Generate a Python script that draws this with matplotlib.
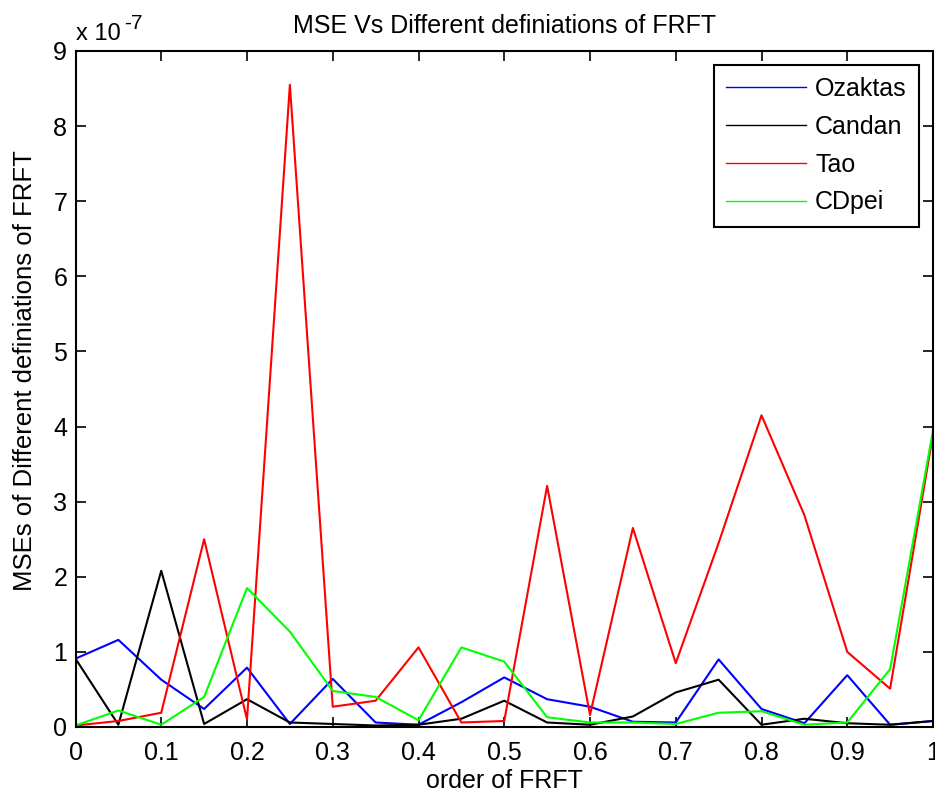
import matplotlib
matplotlib.use("Agg")
import matplotlib.pyplot as plt

plt.rcParams['font.family'] = ['Liberation Sans', 'DejaVu Sans']

order = [0, 0.05, 0.1, 0.15, 0.2, 0.25, 0.3, 0.35, 0.4, 0.45, 0.5,
         0.55, 0.6, 0.65, 0.7, 0.75, 0.8, 0.85, 0.9, 0.95, 1.0]

# values in units of 1e-7
ozaktas = [0.91, 1.16, 0.63, 0.24, 0.79, 0.04, 0.64, 0.06, 0.03, 0.33, 0.66,
           0.37, 0.27, 0.07, 0.06, 0.90, 0.24, 0.05, 0.69, 0.03, 0.08]
candan = [0.91, 0.03, 2.08, 0.04, 0.37, 0.06, 0.04, 0.02, 0.03, 0.11, 0.35,
          0.06, 0.03, 0.14, 0.46, 0.63, 0.03, 0.11, 0.05, 0.03, 0.08]
tao = [0.02, 0.08, 0.19, 2.50, 0.10, 8.55, 0.27, 0.35, 1.06, 0.06, 0.08,
       3.21, 0.16, 2.65, 0.85, 2.45, 4.15, 2.82, 1.00, 0.51, 3.90]
cdpei = [0.02, 0.22, 0.03, 0.40, 1.85, 1.27, 0.48, 0.40, 0.09, 1.06, 0.87,
         0.13, 0.06, 0.06, 0.04, 0.19, 0.21, 0.03, 0.06, 0.77, 3.95]

series_names = ['Ozaktas', 'Candan', 'Tao', 'CDpei']
series_colors = ['#0000ff', '#000000', '#ff0000', '#00ff00']

xticks = [0, 0.1, 0.2, 0.3, 0.4, 0.5, 0.6, 0.7, 0.8, 0.9, 1]
xticklabels = ['0', '0.1', '0.2', '0.3', '0.4', '0.5', '0.6', '0.7', '0.8', '0.9', '1']
yticks = [0, 1, 2, 3, 4, 5, 6, 7, 8, 9]

W, H = 935, 797
fig = plt.figure(figsize=(W / 100, H / 100), dpi=100)
ax = fig.add_axes([75.5 / W, 70 / H, (933 - 75.5) / W, (727 - 51) / H])

for name, vals, c in zip(series_names, [ozaktas, candan, tao, cdpei], series_colors):
    ax.plot(order, vals, color=c, lw=1.5, label=name)

ax.set_xlim(0, 1)
ax.set_ylim(0, 9)
ax.set_xticks(xticks)
ax.set_xticklabels(xticklabels)
ax.set_yticks(yticks)
ax.tick_params(direction='in', length=7, width=1.2, labelsize=18,
               top=True, right=True, colors='black')
ax.tick_params(axis='x', pad=10)
ax.tick_params(axis='y', pad=6)
for s in ax.spines.values():
    s.set_linewidth(1.5)

ax.set_title('MSE Vs Different definiations of FRFT', fontsize=18, pad=13)
ax.set_xlabel('order of FRFT', fontsize=18, labelpad=3)
ax.set_ylabel('MSEs of Different definiations of FRFT', fontsize=18.5)
ax.yaxis.set_label_coords(-0.045, 0.527)

# exponent label (MATLAB style)
fig.text(76 / W, 1 - 40 / H, 'x 10', fontsize=17, ha='left', va='baseline')
fig.text(124 / W, 1 - 29 / H, '-7', fontsize=15, ha='left', va='baseline')

leg = ax.legend(loc='upper right', fontsize=18, handlelength=3.2,
                fancybox=False, framealpha=1, borderaxespad=0.55,
                labelspacing=0.55, handletextpad=0.35, borderpad=0.5)
leg.get_frame().set_edgecolor('black')
leg.get_frame().set_linewidth(1.5)
for l in leg.get_lines():
    l.set_linewidth(1.0)

fig.savefig('out.png', dpi=100)
